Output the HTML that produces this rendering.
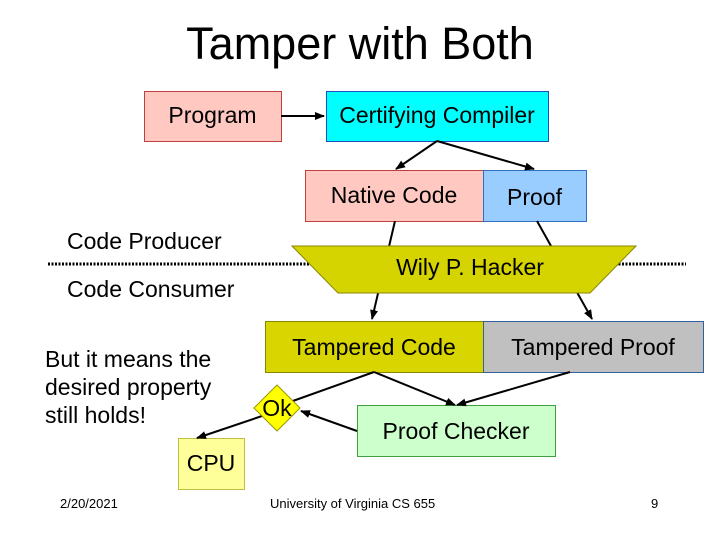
<!DOCTYPE html>
<html><head><style>
body{margin:0;width:720px;height:540px;background:#fff;font-family:"Liberation Sans",sans-serif;position:relative;overflow:hidden}
.t{position:absolute;white-space:nowrap;color:#000}
</style></head><body>
<svg width="720" height="540" style="position:absolute;left:0;top:0">
<defs><marker id="a" markerWidth="10" markerHeight="8" refX="9" refY="4" orient="auto" markerUnits="userSpaceOnUse"><path d="M0,0 L10,4 L0,8 z" fill="#000"/></marker></defs>
<rect x="144.5" y="91.5" width="137" height="50" fill="#ffc8c0" stroke="#c04040"/>
<rect x="326.5" y="91.5" width="222" height="50" fill="#00ffff" stroke="#2050c0"/>
<rect x="305.5" y="170.5" width="178" height="51" fill="#ffc8c0" stroke="#c04040"/>
<rect x="483.5" y="170.5" width="103" height="51" fill="#99ccff" stroke="#3070c0"/>
<line x1="281" y1="116" x2="324" y2="116" stroke="#000" stroke-width="2" marker-end="url(#a)"/>
<line x1="437" y1="141" x2="396" y2="169" stroke="#000" stroke-width="2" marker-end="url(#a)"/>
<line x1="437" y1="141" x2="534" y2="169" stroke="#000" stroke-width="2" marker-end="url(#a)"/>
<line x1="48" y1="264" x2="686" y2="264" stroke="#000" stroke-width="3" stroke-dasharray="2,1.5"/>
<line x1="395" y1="221" x2="372" y2="319" stroke="#000" stroke-width="2" marker-end="url(#a)"/>
<line x1="537" y1="221" x2="592" y2="319" stroke="#000" stroke-width="2" marker-end="url(#a)"/>
<polygon points="292,246 636,246 590,293 338,293" fill="#d6d400" stroke="#888800"/>
<rect x="265.5" y="321.5" width="218" height="51" fill="#d9d500" stroke="#888800"/>
<rect x="483.5" y="321.5" width="220" height="51" fill="#c0c0c0" stroke="#3060a0"/>
<rect x="357.5" y="405.5" width="198" height="51" fill="#ccffcc" stroke="#40a040"/>
<rect x="178.5" y="438.5" width="66" height="51" fill="#ffff99" stroke="#c0c040"/>
<line x1="374" y1="372" x2="455" y2="405" stroke="#000" stroke-width="2" marker-end="url(#a)"/>
<line x1="570" y1="372" x2="457" y2="405" stroke="#000" stroke-width="2" marker-end="url(#a)"/>
<line x1="374" y1="372" x2="290" y2="402" stroke="#000" stroke-width="2"/>
<line x1="357" y1="431" x2="301" y2="411" stroke="#000" stroke-width="2" marker-end="url(#a)"/>
<line x1="265" y1="415" x2="197" y2="438" stroke="#000" stroke-width="2" marker-end="url(#a)"/>
<polygon points="277,385 300,408 277,431 254,408" fill="#ffff00" stroke="#999900"/>
</svg>
<div class="t" style="left:0;width:720px;text-align:center;top:18px;font-size:45px">Tamper with Both</div>
<div class="t" style="left:144px;width:137px;text-align:center;top:102px;font-size:23px">Program</div>
<div class="t" style="left:326px;width:222px;text-align:center;top:102px;font-size:23px">Certifying Compiler</div>
<div class="t" style="left:305px;width:178px;text-align:center;top:182px;font-size:23px">Native Code</div>
<div class="t" style="left:483px;width:103px;text-align:center;top:184px;font-size:23px">Proof</div>
<div class="t" style="left:67px;top:228px;font-size:23px">Code Producer</div>
<div class="t" style="left:67px;top:276px;font-size:23px">Code Consumer</div>
<div class="t" style="left:292px;width:356px;text-align:center;top:254px;font-size:23px">Wily P. Hacker</div>
<div class="t" style="left:265px;width:218px;text-align:center;top:334px;font-size:23px">Tampered Code</div>
<div class="t" style="left:483px;width:220px;text-align:center;top:334px;font-size:23px">Tampered Proof</div>
<div class="t" style="left:357px;width:198px;text-align:center;top:418px;font-size:23px">Proof Checker</div>
<div class="t" style="left:178px;width:66px;text-align:center;top:450px;font-size:23px">CPU</div>
<div class="t" style="left:257px;width:40px;text-align:center;top:395px;font-size:23px">Ok</div>
<div class="t" style="left:45px;top:345px;font-size:23px;line-height:28px">But it means the<br>desired property<br>still holds!</div>
<div class="t" style="left:60px;top:496px;font-size:13px">2/20/2021</div>
<div class="t" style="left:270px;top:496px;font-size:13px">University of Virginia CS 655</div>
<div class="t" style="left:651px;top:496px;font-size:13px">9</div>
</body></html>
